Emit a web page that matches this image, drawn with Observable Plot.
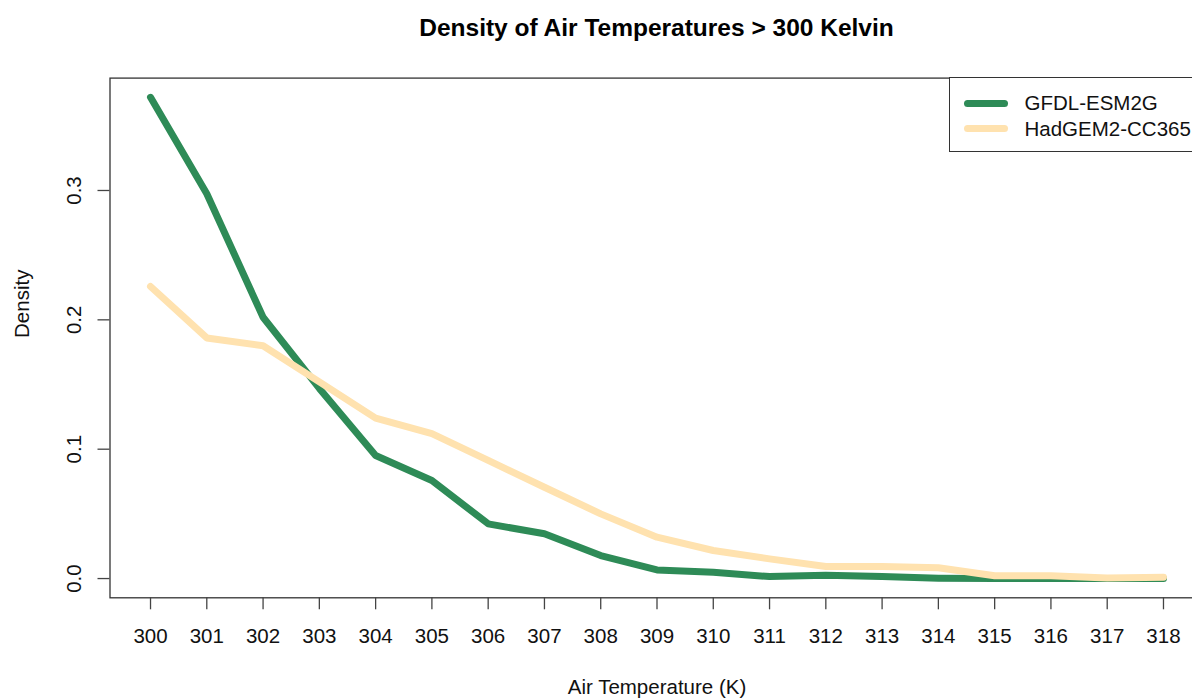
<!DOCTYPE html>
<html>
<head>
<meta charset="utf-8">
<script src="https://cdn.jsdelivr.net/npm/d3@7"></script>
<script src="https://cdn.jsdelivr.net/npm/@observablehq/plot@0.6"></script>
<style>
  html, body { margin: 0; padding: 0; background: #fff; overflow: hidden; width: 1192px; height: 698px; }
  #wrap { position: relative; width: 1192px; height: 698px; overflow: hidden; font-family: "Liberation Sans", Arial, Helvetica, sans-serif; }
  #title { position: absolute; left: 0; top: 15.5px; width: 1313px; text-align: center; font-weight: bold; font-size: 24.5px; line-height: 1; color: #000; white-space: nowrap; }
  #chart { position: absolute; left: 0; top: 60px; width: 1220px; }
  #chart svg { max-width: none !important; width: 1220px; height: 638px; }
  #legend { position: absolute; left: 948.5px; top: 77px; width: 300px; height: 74.5px; border: 1.3px solid #333; background: #fff; box-sizing: border-box; }
  .key { position: absolute; left: 14px; width: 44px; height: 7px; border-radius: 3.5px; }
  .lab { position: absolute; left: 75px; font-size: 20.5px; line-height: 1; color: #111; white-space: nowrap; }
</style>
</head>
<body>
<div id="wrap">
  <div id="title"></div>
  <div id="chart"></div>
  <div id="legend"></div>
</div>
<script>
// Air temperature bins (Kelvin)
const temps = [300, 301, 302, 303, 304, 305, 306, 307, 308, 309, 310, 311, 312, 313, 314, 315, 316, 317, 318];

// Density per temperature bin for each climate model
const gfdlDensity = [0.372, 0.2975, 0.202, 0.147, 0.0951, 0.0758, 0.0423, 0.0346, 0.0178, 0.0067,
                     0.0049, 0.0015, 0.0026, 0.0015, 0.0003, 0.0, 0.0, 0.0, 0.0];
const hadDensity  = [0.2258, 0.186, 0.180, 0.152, 0.124, 0.112, 0.0913, 0.0706, 0.050, 0.032,
                     0.0217, 0.0152, 0.0093, 0.0093, 0.0083, 0.0022, 0.0022, 0.0005, 0.001];

const models = ["GFDL-ESM2G", "HadGEM2-CC365"];
const modelColors = ["#2e8b57", "#ffe2af"];
const yTicks = [0, 0.1, 0.2, 0.3];

const titleText = "Density of Air Temperatures > 300 Kelvin";
const xLabel = "Air Temperature (K)";
const yLabel = "Density";

const gfdl = temps.map((t, i) => ({temp: t, density: gfdlDensity[i]}));
const had = temps.map((t, i) => ({temp: t, density: hadDensity[i]}));

// base-graphics style 4% padding on both axes
const xPad = 0.04 * (d3.max(temps) - d3.min(temps));
const allY = gfdlDensity.concat(hadDensity);
const yPad = 0.04 * (d3.max(allY) - d3.min(allY));

document.getElementById("title").textContent = titleText;

const chart = Plot.plot({
  width: 1220,
  height: 638,
  marginLeft: 109.5,
  marginRight: 16.5,
  marginTop: 17.6,
  marginBottom: 100.7,
  style: {fontFamily: "'Liberation Sans', Arial, Helvetica, sans-serif", fontSize: "20.5px", color: "#111", background: "#fff", overflow: "visible", maxWidth: "none"},
  x: {domain: [d3.min(temps) - xPad, d3.max(temps) + xPad]},
  y: {domain: [d3.min(allY) - yPad, d3.max(allY) + yPad]},
  marks: [
    Plot.line(gfdl, {x: "temp", y: "density", stroke: modelColors[0], strokeWidth: 7, strokeLinecap: "round", strokeLinejoin: "round"}),
    Plot.line(had, {x: "temp", y: "density", stroke: modelColors[1], strokeWidth: 7, strokeLinecap: "round", strokeLinejoin: "round"}),
    Plot.frame({stroke: "#333", strokeWidth: 1.3}),
    Plot.axisX(temps, {tickSize: 12, tickPadding: 19, stroke: "#444", strokeWidth: 1.3, fontSize: 20.5, fill: "#111", label: null}),
    Plot.axisY(yTicks, {tickSize: 12, tickPadding: 17, tickRotate: -90, tickFormat: d3.format(".1f"), stroke: "#444", strokeWidth: 1.3, fontSize: 20.5, fill: "#111", label: null}),
    Plot.text([xLabel], {frameAnchor: "bottom", lineAnchor: "bottom", dy: 95.7, fontSize: 20.5, fill: "#111"}),
    Plot.text([yLabel], {frameAnchor: "left", lineAnchor: "bottom", rotate: -90, dx: -81.2, fontSize: 20.5, fill: "#111"})
  ]
});
document.getElementById("chart").appendChild(chart);

// legend in the top-right corner of the plot box
const legend = document.getElementById("legend");
const keyTops = [21.5, 47];
const labTops = [15.2, 40.5];
models.forEach((m, i) => {
  const key = document.createElement("div");
  key.className = "key";
  key.style.top = keyTops[i] + "px";
  key.style.background = modelColors[i];
  legend.appendChild(key);
  const lab = document.createElement("div");
  lab.className = "lab";
  lab.style.top = labTops[i] + "px";
  lab.textContent = m;
  legend.appendChild(lab);
});
</script>
</body>
</html>
